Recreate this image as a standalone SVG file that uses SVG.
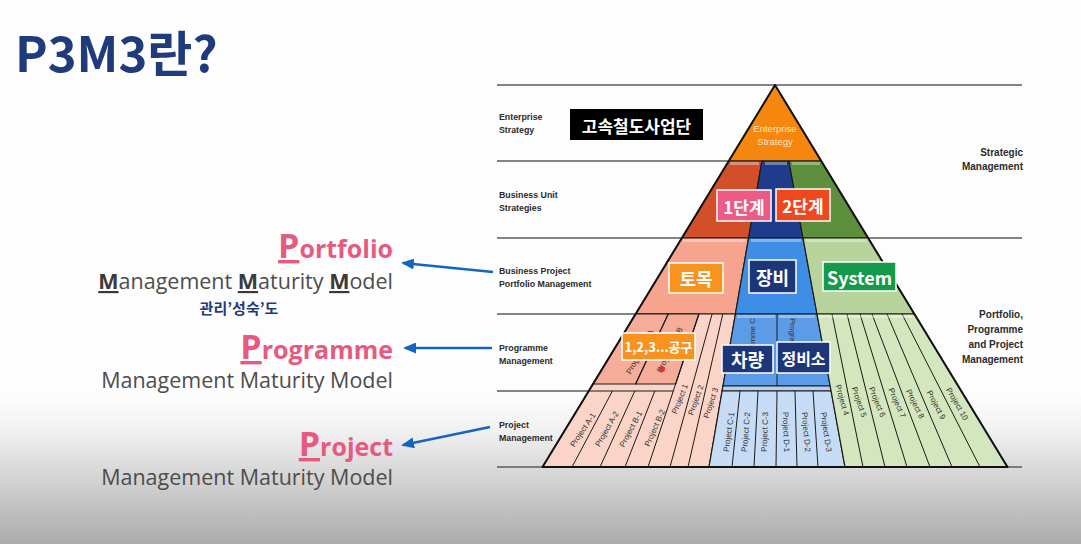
<svg xmlns="http://www.w3.org/2000/svg" width="1081" height="544" viewBox="0 0 1081 544">
<defs>
<style>
.lbl{font-family:"Liberation Sans",Arial,sans-serif;font-weight:bold;font-size:8.8px;fill:#2b2b2b}
.rlbl{font-family:"Liberation Sans",Arial,sans-serif;font-weight:bold;font-size:10px;fill:#2b2b2b;text-anchor:end}
.proj{font-family:"Liberation Sans",Arial,sans-serif;font-size:8px;fill:#333;text-anchor:middle;dominant-baseline:central}
.kbox{stroke:#fff;stroke-width:1.5}
.ktxt{font-family:"Noto Sans CJK KR",sans-serif;font-weight:bold;fill:#fff;text-anchor:middle;dominant-baseline:central}
.hline{stroke:#5a5a5a;stroke-width:1.5}
.blk{stroke:#1a1a1a;stroke-width:1.2;stroke-linejoin:round}
.ln{stroke:#1a1a1a;stroke-width:1;fill:none}
.hl{stroke:#ffffff;stroke-opacity:0.35;stroke-width:3}
.arrow{stroke:#1565c0;stroke-width:2.5;fill:none;marker-end:url(#ah)}
.big{font-family:"Open Sans","Noto Sans",sans-serif;font-weight:bold;fill:#e65a80;text-anchor:end}
.mmm{font-family:"Open Sans","Noto Sans",sans-serif;font-size:21.5px;fill:#4d4d4d;text-anchor:end}
</style>
<linearGradient id="shade" x1="0" y1="0" x2="0" y2="1">
<stop offset="0" stop-color="#fdfdfd"/>
<stop offset="0.25" stop-color="#f0f0f0"/>
<stop offset="1" stop-color="#ababab"/>
</linearGradient>
<marker id="ah" markerUnits="userSpaceOnUse" markerWidth="13" markerHeight="11" refX="11" refY="5.5" orient="auto">
<path d="M0,0 L13,5.5 L0,11 z" fill="#1565c0"/>
</marker>
</defs>

<rect x="0" y="0" width="1081" height="544" fill="#fdfdfd"/>
<rect x="0" y="395" width="1081" height="149" fill="url(#shade)"/>

<g id="guides">
<line class="hline" x1="497" y1="85" x2="1022" y2="85"/>
<line class="hline" x1="497" y1="161" x2="821" y2="161"/>
<line class="hline" x1="497" y1="238" x2="1022" y2="238"/>
<line class="hline" x1="497" y1="314" x2="914" y2="314"/>
<line class="hline" x1="497" y1="391" x2="961" y2="391"/>
<line class="hline" x1="497" y1="467" x2="1022" y2="467"/>
</g>

<g id="pyramid">
<polygon class="blk" points="775,85 728.7,161 821.3,161" fill="#f6870e"/>
<polygon class="blk" points="728.7,161 761.9,161 748.6,238 681.9,238" fill="#d24f2a"/>
<polygon class="blk" points="761.9,161 788.9,161 803,238 748.6,238" fill="#1f3c8c"/>
<polygon class="blk" points="788.9,161 821.3,161 868.1,238 803,238" fill="#5e8f3c"/>
<line class="hl" x1="730" y1="163.5" x2="759" y2="163.5"/>
<line class="hl" x1="765" y1="163.5" x2="787" y2="163.5"/>
<line class="hl" x1="792" y1="163.5" x2="820" y2="163.5"/>
<polygon class="blk" points="681.9,238 748.6,238 735.4,314 635.6,314" fill="#f7a48f"/>
<polygon class="blk" points="748.6,238 803,238 817,314 735.4,314" fill="#3f8ee6"/>
<polygon class="blk" points="803,238 868.1,238 914.4,314 817,314" fill="#b8d49c"/>
<line class="hl" x1="683" y1="240.5" x2="746" y2="240.5"/>
<line class="hl" x1="751" y1="240.5" x2="801" y2="240.5"/>
<line class="hl" x1="806" y1="240.5" x2="867" y2="240.5"/>
<polygon class="blk" points="635.6,314 735.4,314 709,467 542.5,467" fill="#fad4c7"/>
<polygon class="blk" points="635.6,314 668.3,314 635.7,384 593,384" fill="#f5ad99"/>
<polygon class="blk" points="668.3,314 698.9,314 675.6,384 635.7,384" fill="#f5ad99"/>
<line class="ln" x1="588.8" y1="391" x2="673.3" y2="391"/>
<line class="ln" x1="612.4" y1="391" x2="572" y2="467"/>
<line class="ln" x1="634.8" y1="391" x2="600" y2="467"/>
<line class="ln" x1="654.8" y1="391" x2="625" y2="467"/>
<line class="ln" x1="698.9" y1="314" x2="648" y2="467"/>
<line class="ln" x1="712.1" y1="314" x2="670" y2="467"/>
<line class="ln" x1="722.8" y1="314" x2="688" y2="467"/>
<polygon class="blk" points="735.4,314 817,314 830.2,386 723,386" fill="#5c9be6"/>
<polygon class="blk" points="723,386 830.2,386 831.1,391 722.1,391" fill="#b5d0f0"/>
<line class="ln" x1="777" y1="314" x2="777" y2="386"/>
<polygon class="blk" points="722.1,391 831.1,391 845,467 709,467" fill="#c6dbf4"/>
<line class="ln" x1="740" y1="391" x2="732" y2="467"/>
<line class="ln" x1="758" y1="391" x2="754" y2="467"/>
<line class="ln" x1="777" y1="391" x2="776" y2="467"/>
<line class="ln" x1="795" y1="391" x2="797" y2="467"/>
<line class="ln" x1="813" y1="391" x2="818" y2="467"/>
<line class="hl" x1="737" y1="316.5" x2="775" y2="316.5"/>
<line class="hl" x1="779" y1="316.5" x2="815" y2="316.5"/>
<polygon class="blk" points="817,314 914.4,314 1007.5,467 845,467" fill="#d3e6bd"/>
<line class="ln" x1="832" y1="314" x2="863" y2="467"/>
<line class="ln" x1="847" y1="314" x2="885" y2="467"/>
<line class="ln" x1="860" y1="314" x2="907" y2="467"/>
<line class="ln" x1="872" y1="314" x2="930" y2="467"/>
<line class="ln" x1="887" y1="314" x2="952" y2="467"/>
<line class="ln" x1="902" y1="314" x2="980" y2="467"/>
<line class="hl" x1="819" y1="316.5" x2="912" y2="316.5"/>
<polygon points="775,85 542.5,467 1007.5,467" fill="none" stroke="#111" stroke-width="2" stroke-linejoin="round"/>

<text x="775" y="132" font-family="Liberation Sans,Arial,sans-serif" font-size="9.5" fill="#fde3c8" text-anchor="middle">Enterprise</text>
<text x="775" y="145" font-family="Liberation Sans,Arial,sans-serif" font-size="9.5" fill="#fde3c8" text-anchor="middle">Strategy</text>

<text class="proj" transform="translate(640,352) rotate(-62)">Programme A</text>
<text class="proj" transform="translate(670,350) rotate(-64)">Programme B</text>
<text class="proj" transform="translate(752,318) rotate(-90)" style="text-anchor:end">Programme C</text>
<text class="proj" transform="translate(792,318) rotate(90)" style="text-anchor:start">Programme D</text>
<circle cx="662" cy="369" r="3" fill="#e8302a"/>

<text class="proj" transform="translate(583,430) rotate(-56)">Project A-1</text>
<text class="proj" transform="translate(607,429) rotate(-60)">Project A-2</text>
<text class="proj" transform="translate(631,429) rotate(-62)">Project B-1</text>
<text class="proj" transform="translate(655,428) rotate(-66)">Project B-2</text>
<text class="proj" transform="translate(680,399) rotate(-68)">Project 1</text>
<text class="proj" transform="translate(696,400) rotate(-70)">Project 2</text>
<text class="proj" transform="translate(711,403) rotate(-72)">Project 3</text>
<text class="proj" transform="translate(729,432) rotate(-82)">Project C-1</text>
<text class="proj" transform="translate(746,432) rotate(-85)">Project C-2</text>
<text class="proj" transform="translate(765,432) rotate(-88)">Project C-3</text>
<text class="proj" transform="translate(786,432) rotate(88)">Project D-1</text>
<text class="proj" transform="translate(806,432) rotate(85)">Project D-2</text>
<text class="proj" transform="translate(826,432) rotate(82)">Project D-3</text>
<text class="proj" transform="translate(842,400) rotate(74)">Project 4</text>
<text class="proj" transform="translate(859,402) rotate(71)">Project 5</text>
<text class="proj" transform="translate(877,402) rotate(68)">Project 6</text>
<text class="proj" transform="translate(897,403) rotate(66)">Project 7</text>
<text class="proj" transform="translate(915,404) rotate(64)">Project 8</text>
<text class="proj" transform="translate(936,405) rotate(62)">Project 9</text>
<text class="proj" transform="translate(957,404) rotate(60)">Project 10</text>
</g>

<g id="tier-labels">
<text class="lbl" x="499" y="120">Enterprise</text>
<text class="lbl" x="499" y="133">Strategy</text>
<text class="lbl" x="499" y="198">Business Unit</text>
<text class="lbl" x="499" y="211">Strategies</text>
<text class="lbl" x="499" y="274">Business Project</text>
<text class="lbl" x="499" y="287">Portfolio Management</text>
<text class="lbl" x="499" y="351">Programme</text>
<text class="lbl" x="499" y="364">Management</text>
<text class="lbl" x="499" y="428">Project</text>
<text class="lbl" x="499" y="441">Management</text>
<text class="rlbl" x="1023" y="156">Strategic</text>
<text class="rlbl" x="1023" y="170">Management</text>
<text class="rlbl" x="1023" y="318">Portfolio,</text>
<text class="rlbl" x="1023" y="333">Programme</text>
<text class="rlbl" x="1023" y="348">and Project</text>
<text class="rlbl" x="1023" y="363">Management</text>
</g>

<g id="node-gosok"><rect x="570" y="109" width="133" height="31" fill="#000"/><text class="ktxt" x="636.5" y="125" font-size="17">고속철도사업단</text></g>
<g id="node-stage1"><rect class="kbox" x="717" y="190" width="54" height="31" fill="#ec5b86"/><text class="ktxt" x="744" y="206" font-size="17">1단계</text></g>
<g id="node-stage2"><rect class="kbox" x="776" y="189" width="54" height="32" fill="#f0481e"/><text class="ktxt" x="803" y="205" font-size="17">2단계</text></g>
<g id="node-civil"><rect class="kbox" x="669" y="263" width="54" height="30" fill="#f7931e"/><text class="ktxt" x="696" y="278" font-size="18">토목</text></g>
<g id="node-equip"><rect class="kbox" x="749" y="260" width="47" height="33" fill="#1d3678"/><text class="ktxt" x="772.5" y="276.5" font-size="18">장비</text></g>
<g id="node-system"><rect class="kbox" x="823" y="262" width="73" height="29" fill="#15994a"/><text class="ktxt" x="859.5" y="276.5" font-size="18">System</text></g>
<g id="node-section"><rect class="kbox" x="622" y="333" width="73" height="27" fill="#f7931e"/><text class="ktxt" x="658.5" y="346.5" font-size="13">1,2,3...공구</text></g>
<g id="node-vehicle"><rect class="kbox" x="722" y="345" width="51" height="28" fill="#1d3678"/><text class="ktxt" x="747.5" y="359" font-size="18">차량</text></g>
<g id="node-depot"><rect class="kbox" x="777" y="342" width="53" height="31" fill="#1d3678"/><text class="ktxt" x="803.5" y="357.5" font-size="16">정비소</text></g>

<g id="title"><text x="15" y="72" font-family="'Noto Sans CJK KR',sans-serif" font-weight="bold" font-size="49" fill="#1f3b7c">P3M3란?</text></g>

<g id="node-portfolio">
<text class="big" x="393" y="258" font-size="25"><tspan font-size="34" text-decoration="underline">P</tspan>ortfolio</text>
<text class="mmm" x="393" y="289" font-size="22"><tspan font-weight="bold" fill="#3a3a3a" text-decoration="underline">M</tspan>anagement <tspan font-weight="bold" fill="#3a3a3a" text-decoration="underline">M</tspan>aturity <tspan font-weight="bold" fill="#3a3a3a" text-decoration="underline">M</tspan>odel</text>
<text x="239" y="314" font-family="'Noto Sans CJK KR',sans-serif" font-weight="bold" font-size="15" fill="#1f3b7c" text-anchor="middle">관리’성숙’도</text>
</g>
<g id="node-programme">
<text class="big" x="393" y="359" font-size="25"><tspan font-size="34" text-decoration="underline">P</tspan>rogramme</text>
<text class="mmm" x="393" y="388">Management Maturity Model</text>
</g>
<g id="node-project">
<text class="big" x="393" y="456" font-size="25"><tspan font-size="34" text-decoration="underline">P</tspan>roject</text>
<text class="mmm" x="393" y="485">Management Maturity Model</text>
</g>

<g id="connectors">
<line class="arrow" x1="493" y1="272" x2="403" y2="263"/>
<line class="arrow" x1="492" y1="348" x2="405" y2="348"/>
<line class="arrow" x1="490" y1="427" x2="403" y2="445"/>
</g>
</svg>
